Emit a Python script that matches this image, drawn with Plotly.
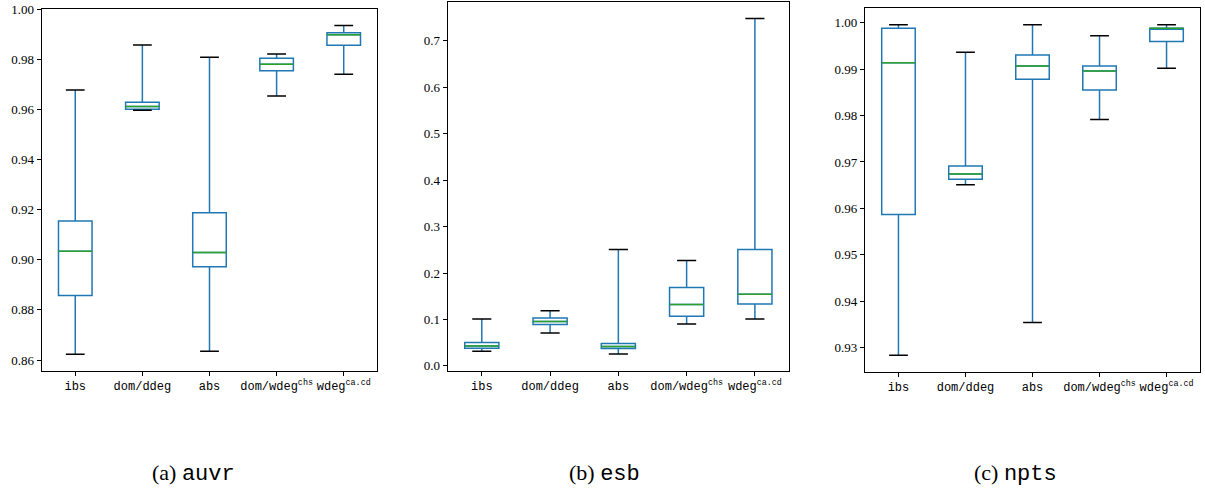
import plotly.graph_objects as go

# Solver heuristics compared in every panel
heuristics = ["ibs", "dom/ddeg", "abs", "dom/wdeg<sup>chs</sup>", "wdeg<sup>ca.cd</sup>"]
positions = [1, 2, 3, 4, 5]

# (a) auvr: five-number summaries per heuristic
auvr_low = [0.8623, 0.9597, 0.8635, 0.9653, 0.9740]
auvr_q1 = [0.8858, 0.9601, 0.8972, 0.9754, 0.9856]
auvr_med = [0.9034, 0.9612, 0.9029, 0.9780, 0.9898]
auvr_q3 = [0.9155, 0.9629, 0.9188, 0.9804, 0.9906]
auvr_high = [0.9677, 0.9857, 0.9808, 0.9821, 0.9935]

# (b) esb
esb_low = [0.0316, 0.0710, 0.0258, 0.0905, 0.1012]
esb_q1 = [0.0380, 0.0890, 0.0373, 0.1070, 0.1335]
esb_med = [0.0431, 0.0955, 0.0416, 0.1321, 0.1543]
esb_q3 = [0.0503, 0.1034, 0.0481, 0.1687, 0.2505]
esb_high = [0.1012, 0.1190, 0.2505, 0.2268, 0.7480]

# (c) npts
npts_low = [0.92835, 0.96511, 0.93540, 0.97914, 0.99022]
npts_q1 = [0.95870, 0.96626, 0.98784, 0.98554, 0.99597]
npts_med = [0.99137, 0.96741, 0.99072, 0.98964, 0.99885]
npts_q3 = [0.99885, 0.96914, 0.99309, 0.99072, 0.99885]
npts_high = [0.99957, 0.99367, 0.99957, 0.99719, 0.99957]

panels = [
    dict(low=auvr_low, q1=auvr_q1, med=auvr_med, q3=auvr_q3, high=auvr_high,
         ticks=[0.86, 0.88, 0.90, 0.92, 0.94, 0.96, 0.98, 1.00], fmt=".2f",
         xdom=[0.0346, 0.3131], ydom=[0.2465, 0.9817]),
    dict(low=esb_low, q1=esb_q1, med=esb_med, q3=esb_q3, high=esb_high,
         ticks=[0.0, 0.1, 0.2, 0.3, 0.4, 0.5, 0.6, 0.7], fmt=".1f",
         xdom=[0.3715, 0.6548], ydom=[0.2465, 0.9965]),
    dict(low=npts_low, q1=npts_q1, med=npts_med, q3=npts_q3, high=npts_high,
         ticks=[0.93, 0.94, 0.95, 0.96, 0.97, 0.98, 0.99, 1.00], fmt=".2f",
         xdom=[0.7178, 0.9959], ydom=[0.2445, 0.9831]),
]

captions = [("(a) ", "auvr", 193), ("(b) ", "esb", 604), ("(c) ", "npts", 1015)]

BLUE = "#1f77b4"
GREEN = "#2ca02c"
SERIF = "Liberation Serif"
MONO = "Liberation Mono"
BOX_W = 0.5
CAP_HALF = 0.14


def segments(values, half):
    xs, ys = [], []
    for p, v in zip(positions, values):
        xs += [p - half, p + half, None]
        ys += [v, v, None]
    return xs, ys


fig = go.Figure()
layout = dict(
    width=1205, height=492, margin=dict(l=0, r=0, t=0, b=0, autoexpand=False),
    paper_bgcolor="white", plot_bgcolor="white", showlegend=False,
)

for i, p in enumerate(panels):
    sx = "" if i == 0 else str(i + 1)
    xa, ya = "x" + sx, "y" + sx

    fig.add_trace(go.Box(
        x=positions, q1=p["q1"], median=p["med"], q3=p["q3"],
        lowerfence=p["low"], upperfence=p["high"],
        width=BOX_W, whiskerwidth=0, boxpoints=False,
        line=dict(color=BLUE, width=1.5), fillcolor="rgba(0,0,0,0)",
        xaxis=xa, yaxis=ya, hoverinfo="skip",
    ))
    for vals, half, col in ((p["low"], CAP_HALF, "black"),
                            (p["high"], CAP_HALF, "black"),
                            (p["med"], BOX_W / 2, GREEN)):
        xs, ys = segments(vals, half)
        fig.add_trace(go.Scatter(
            x=xs, y=ys, mode="lines", line=dict(color=col, width=1.5),
            xaxis=xa, yaxis=ya, hoverinfo="skip",
        ))

    lo, hi = min(p["low"]), max(p["high"])
    pad = 0.05 * (hi - lo)

    layout["xaxis" + sx] = dict(
        domain=p["xdom"], anchor=ya, range=[0.5, 5.5], automargin=False,
        tickmode="array", tickvals=positions, ticktext=heuristics,
        ticks="outside", ticklen=4, tickwidth=1, tickcolor="black",
        showline=True, linecolor="black", linewidth=1, mirror=True,
        showgrid=False, zeroline=False,
        tickfont=dict(family=MONO, size=12, color="black"),
    )
    layout["yaxis" + sx] = dict(
        domain=p["ydom"], anchor=xa, range=[lo - pad, hi + pad], automargin=False,
        tickmode="array", tickvals=p["ticks"],
        ticktext=[format(t, p["fmt"]) for t in p["ticks"]],
        ticks="outside", ticklen=4, tickwidth=1, tickcolor="black",
        showline=True, linecolor="black", linewidth=1, mirror=True,
        showgrid=False, zeroline=False,
        tickfont=dict(family=SERIF, size=13, color="black"),
    )

fig.update_layout(**layout)

for prefix, name, cx in captions:
    fig.add_annotation(
        x=cx / 1205, y=1 - 473 / 492, xref="paper", yref="paper",
        xanchor="center", yanchor="middle", showarrow=False,
        text=prefix + "<span style='font-family:" + MONO + "'>" + name + "</span>",
        font=dict(family=SERIF, size=22, color="black"),
    )

fig.write_html("out.html")
